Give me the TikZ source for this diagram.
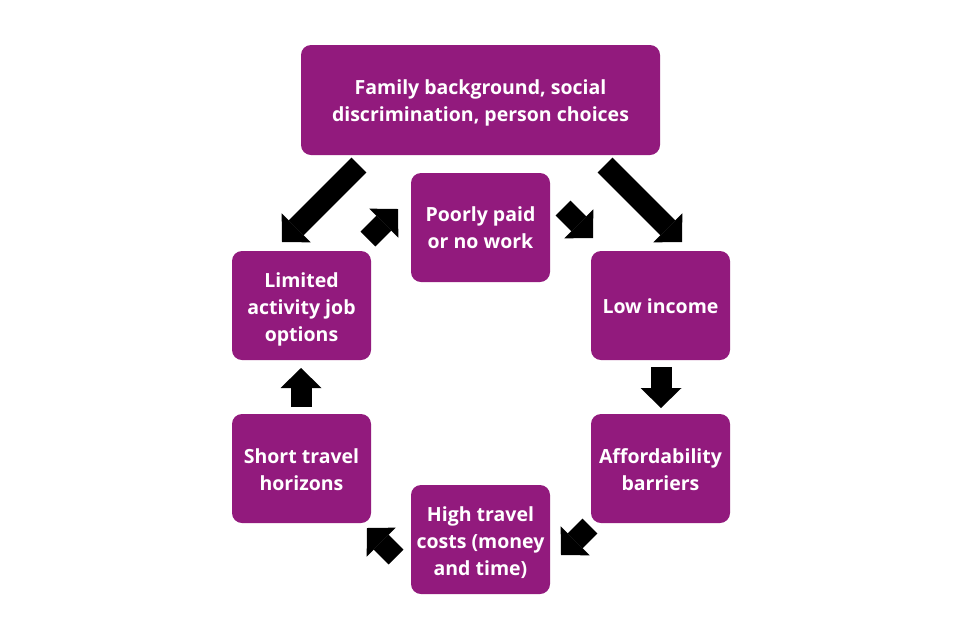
\documentclass[tikz,border=0pt]{standalone}
\usepackage{fontspec}
\setmainfont{Open Sans}
\usetikzlibrary{arrows.meta}
\definecolor{boxpurple}{RGB}{146,26,125}
\begin{document}
\begin{tikzpicture}[x=1pt,y=-1pt,
  box/.style={fill=boxpurple, rounded corners=10pt, inner sep=0pt},
  txt/.style={text=white, align=center, inner sep=0pt,
    font=\fontsize{19.5}{27}\selectfont\bfseries},
  blk/.style={line width=21pt, black,
    -{Triangle[length=20pt,width=41pt,line width=0pt]}}]
\useasboundingbox (0,0) rectangle (961,641);
\fill[white] (0,0) rectangle (961,641);
% boxes
\node[box, minimum width=359pt, minimum height=110pt] (top) at (480.5,100) {};
\node[box, minimum width=139pt, minimum height=109pt] (poor) at (480.5,227.5) {};
\node[box, minimum width=139pt, minimum height=109pt] (low) at (660.5,305.5) {};
\node[box, minimum width=139pt, minimum height=109pt] (afford) at (660.5,468.5) {};
\node[box, minimum width=139pt, minimum height=109pt] (high) at (480.5,539.5) {};
\node[box, minimum width=139pt, minimum height=109pt] (short) at (301.5,468.5) {};
\node[box, minimum width=139pt, minimum height=109pt] (lim) at (301.5,305.5) {};
% texts
\node[txt] (topt) at ([yshift=-3pt]top.center) {Family background, social\\discrimination, person choices};
\node[txt] (poort) at ([yshift=-0.5pt]poor.center) {Poorly paid\\or no work};
\node[txt] (lowt) at ([yshift=-1pt]low.center) {Low income};
\node[txt] (affordt) at ([yshift=-1pt]afford.center) {Affordability\\barriers};
\node[txt] (hight) at ([yshift=-3pt]high.center) {High travel\\costs (money\\and time)};
\node[txt] (shortt) at ([yshift=-1pt]short.center) {Short travel\\horizons};
\node[txt] (limt) at ([yshift=-4pt]lim.center) {Limited\\activity job\\options};
% arrow end points
\coordinate (a1s) at (359,165); \coordinate (a1e) at (282,242);
\coordinate (a2s) at (605,165); \coordinate (a2e) at (682,242);
\coordinate (a3s) at (368,239); \coordinate (a3e) at (398,209);
\coordinate (a4s) at (563,208); \coordinate (a4e) at (593,238);
\coordinate (a5s) at (661,367); \coordinate (a5e) at (661,408);
\coordinate (a6s) at (590,526); \coordinate (a6e) at (561,555);
\coordinate (a7s) at (396,557); \coordinate (a7e) at (367,528);
\coordinate (a8s) at (301,407); \coordinate (a8e) at (301,368);
\draw[blk] (a1s) -- (a1e);
\draw[blk] (a2s) -- (a2e);
\draw[blk] (a3s) -- (a3e);
\draw[blk] (a4s) -- (a4e);
\draw[blk] (a5s) -- (a5e);
\draw[blk] (a6s) -- (a6e);
\draw[blk] (a7s) -- (a7e);
\draw[blk] (a8s) -- (a8e);
\end{tikzpicture}
\end{document}
